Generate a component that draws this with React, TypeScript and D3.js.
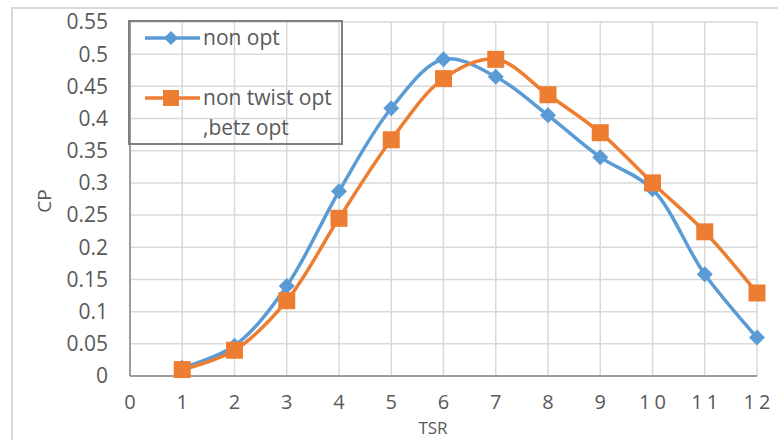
import React from "react";
import * as d3 from "d3";

const tsr = [1, 2, 3, 4, 5, 6, 7, 8, 9, 10, 11, 12];
const nonOpt = [0.013, 0.047, 0.14, 0.287, 0.416, 0.492, 0.465, 0.405, 0.34, 0.29, 0.158, 0.06];
const nonTwistOpt = [0.01, 0.04, 0.117, 0.245, 0.367, 0.462, 0.492, 0.437, 0.378, 0.3, 0.224, 0.129];
const xTicks = [0, 1, 2, 3, 4, 5, 6, 7, 8, 9, 10, 11, 12];
const yTicks = [0, 0.05, 0.1, 0.15, 0.2, 0.25, 0.3, 0.35, 0.4, 0.45, 0.5, 0.55];
const seriesNames = ["non opt", "non twist opt", ",betz opt"];

const W = 778;
const H = 440;
const L = 130, R = 757, T = 22, B = 376;
const BLUE = "#5B9BD5";
const ORANGE = "#ED7D31";
const FONT = "'Open Sans', 'Liberation Sans', sans-serif";

export default function App() {
  const x = d3.scaleLinear().domain([0, 12]).range([L, R]);
  const y = d3.scaleLinear().domain([0, 0.55]).range([B, T]);
  const line = d3
    .line<number>()
    .x((_, i) => x(tsr[i]))
    .y((d) => y(d))
    .curve(d3.curveCatmullRom.alpha(0.5));
  const fmt = (v: number) => (v === 0 ? "0" : String(+v.toFixed(2)));
  const diamond = (cx: number, cy: number, r: number) =>
    `M${cx},${cy - r}L${cx + r},${cy}L${cx},${cy + r}L${cx - r},${cy}Z`;

  return (
    <svg
      width={W}
      height={H}
      style={{ position: "fixed", left: 0, top: 0, background: "#fff" }}
      fontFamily={FONT}
    >
      <rect x={0} y={0} width={W} height={H} fill="#fff" />
      {/* outer chart border */}
      <path d={`M12,${H + 2}L12,8L${W + 2},8`} fill="none" stroke="#d9d9d9" strokeWidth={2} />
      {/* gridlines */}
      {yTicks.map((t) => (
        <line key={"gy" + t} x1={L} x2={R} y1={y(t)} y2={y(t)} stroke="#d9d9d9" strokeWidth={1.5} />
      ))}
      {xTicks.map((t) => (
        <line key={"gx" + t} x1={x(t)} x2={x(t)} y1={T} y2={B} stroke="#d9d9d9" strokeWidth={1.5} />
      ))}
      {/* axes */}
      <line x1={L} x2={R} y1={B} y2={B} stroke="#868686" strokeWidth={1.5} />
      <line x1={L} x2={L} y1={T} y2={B} stroke="#868686" strokeWidth={1.5} />
      {/* y tick labels */}
      {yTicks.map((t) => (
        <text
          key={"ly" + t}
          x={108}
          y={y(t)}
          dy="0.35em"
          textAnchor="end"
          fontSize={21}
          fill="#595959"
        >
          {fmt(t)}
        </text>
      ))}
      {/* x tick labels */}
      {xTicks.map((t) => (
        <text
          key={"lx" + t}
          x={x(t) + (t >= 10 ? 2 : 0)}
          y={409}
          textAnchor="middle"
          fontSize={20}
          fill="#595959"
          letterSpacing={t >= 10 ? 4 : 0}
        >
          {String(t)}
        </text>
      ))}
      <text x={433} y={434} textAnchor="middle" fontSize={17} fill="#595959">
        TSR
      </text>
      <text
        transform={`translate(51,201) rotate(-90)`}
        textAnchor="middle"
        fontSize={19}
        fill="#595959"
      >
        CP
      </text>
      {/* lines */}
      <path d={line(nonOpt) || ""} fill="none" stroke={BLUE} strokeWidth={3.5} />
      <path d={line(nonTwistOpt) || ""} fill="none" stroke={ORANGE} strokeWidth={3.5} />
      {/* markers */}
      {nonOpt.map((v, i) => (
        <path key={"mb" + i} d={diamond(x(tsr[i]), y(v), 8)} fill={BLUE} />
      ))}
      {nonTwistOpt.map((v, i) => (
        <rect
          key={"mo" + i}
          x={x(tsr[i]) - 8.5}
          y={y(v) - 8.5}
          width={17}
          height={17}
          fill={ORANGE}
        />
      ))}
      {/* legend */}
      <rect x={129} y={21} width={213} height={123} fill="none" stroke="#7f7f7f" strokeWidth={2} />
      <line x1={145} x2={200} y1={38} y2={38} stroke={BLUE} strokeWidth={3.5} />
      <path d={diamond(171, 38, 7)} fill={BLUE} />
      <text x={203} y={38} dy="0.35em" fontSize={21} fill="#595959">
        {seriesNames[0]}
      </text>
      <line x1={145} x2={200} y1={98} y2={98} stroke={ORANGE} strokeWidth={3.5} />
      <rect x={163} y={90} width={16} height={16} fill={ORANGE} />
      <text x={203} y={98} dy="0.35em" fontSize={21} fill="#595959">
        {seriesNames[1]}
      </text>
      <text x={203} y={128} dy="0.35em" fontSize={21} fill="#595959">
        {seriesNames[2]}
      </text>
    </svg>
  );
}
